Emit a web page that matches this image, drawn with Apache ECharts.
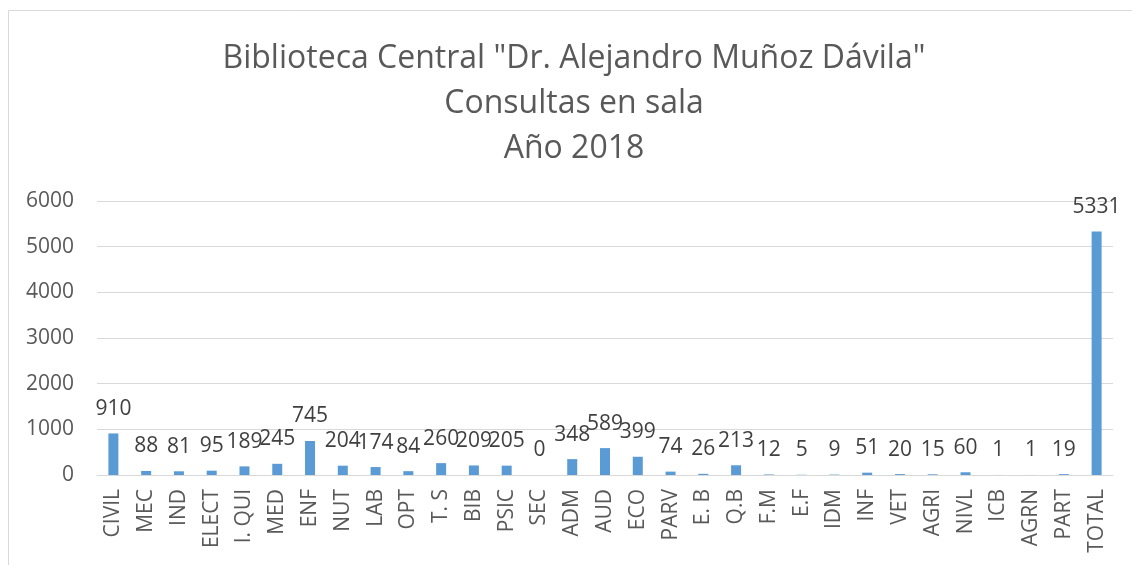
<!DOCTYPE html>
<html>
<head>
<meta charset="utf-8">
<script src="https://cdn.jsdelivr.net/npm/echarts@6/dist/echarts.min.js"></script>
<style>
html, body { margin: 0; padding: 0; background: #fff; }
#main { width: 1132px; height: 565px; }
</style>
</head>
<body>
<div id="main"></div>
<script>
var categories = ['CIVIL', 'MEC', 'IND', 'ELECT', 'I. QUI', 'MED', 'ENF', 'NUT', 'LAB', 'OPT',
    'T. S', 'BIB', 'PSIC', 'SEC', 'ADM', 'AUD', 'ECO', 'PARV', 'E. B', 'Q.B',
    'F.M', 'E.F', 'IDM', 'INF', 'VET', 'AGRI', 'NIVL', 'ICB', 'AGRN', 'PART', 'TOTAL'];
var consultas = [910, 88, 81, 95, 189, 245, 745, 204, 174, 84,
    260, 209, 205, 0, 348, 589, 399, 74, 26, 213,
    12, 5, 9, 51, 20, 15, 60, 1, 1, 19, 5331];
var titleLines = ['Biblioteca Central "Dr. Alejandro Muñoz Dávila"', 'Consultas en sala', 'Año 2018'];

var font = 'Open Sans';
var myChart = echarts.init(document.getElementById('main'));

var option = {
    backgroundColor: '#fff',
    animation: false,
    title: {
        text: titleLines.join('\n'),
        left: 569,
        top: 31,
        textAlign: 'center',
        textStyle: {
            fontFamily: font,
            fontSize: 32,
            fontWeight: 'normal',
            color: '#595959',
            lineHeight: 45
        }
    },
    graphic: [{
        type: 'rect',
        shape: { x: 8.5, y: 10.5, width: 1200, height: 700 },
        style: { fill: 'none', stroke: '#d9d9d9', lineWidth: 1 },
        silent: true
    }],
    grid: {
        left: 97,
        right: 19,
        top: 201,
        bottom: 90
    },
    xAxis: {
        type: 'category',
        data: categories,
        axisLine: { lineStyle: { color: '#d9d9d9' } },
        axisTick: { show: false },
        axisLabel: {
            interval: 0,
            rotate: 90,
            margin: 14,
            fontFamily: font,
            fontSize: 21,
            color: '#595959'
        }
    },
    yAxis: {
        type: 'value',
        min: 0,
        max: 6000,
        interval: 1000,
        axisLine: { show: false },
        axisTick: { show: false },
        splitLine: { lineStyle: { color: '#d9d9d9', width: 1 } },
        axisLabel: {
            margin: 23,
            fontFamily: font,
            fontSize: 21,
            color: '#595959',
            formatter: function (v) { return String(v); }
        }
    },
    series: [{
        name: 'Consultas',
        type: 'bar',
        data: consultas,
        barWidth: 10,
        itemStyle: { color: '#5b9bd5' },
        label: {
            show: true,
            position: 'top',
            distance: 14,
            fontFamily: font,
            fontSize: 21,
            color: '#404040'
        }
    }]
};

myChart.setOption(option);
</script>
</body>
</html>
